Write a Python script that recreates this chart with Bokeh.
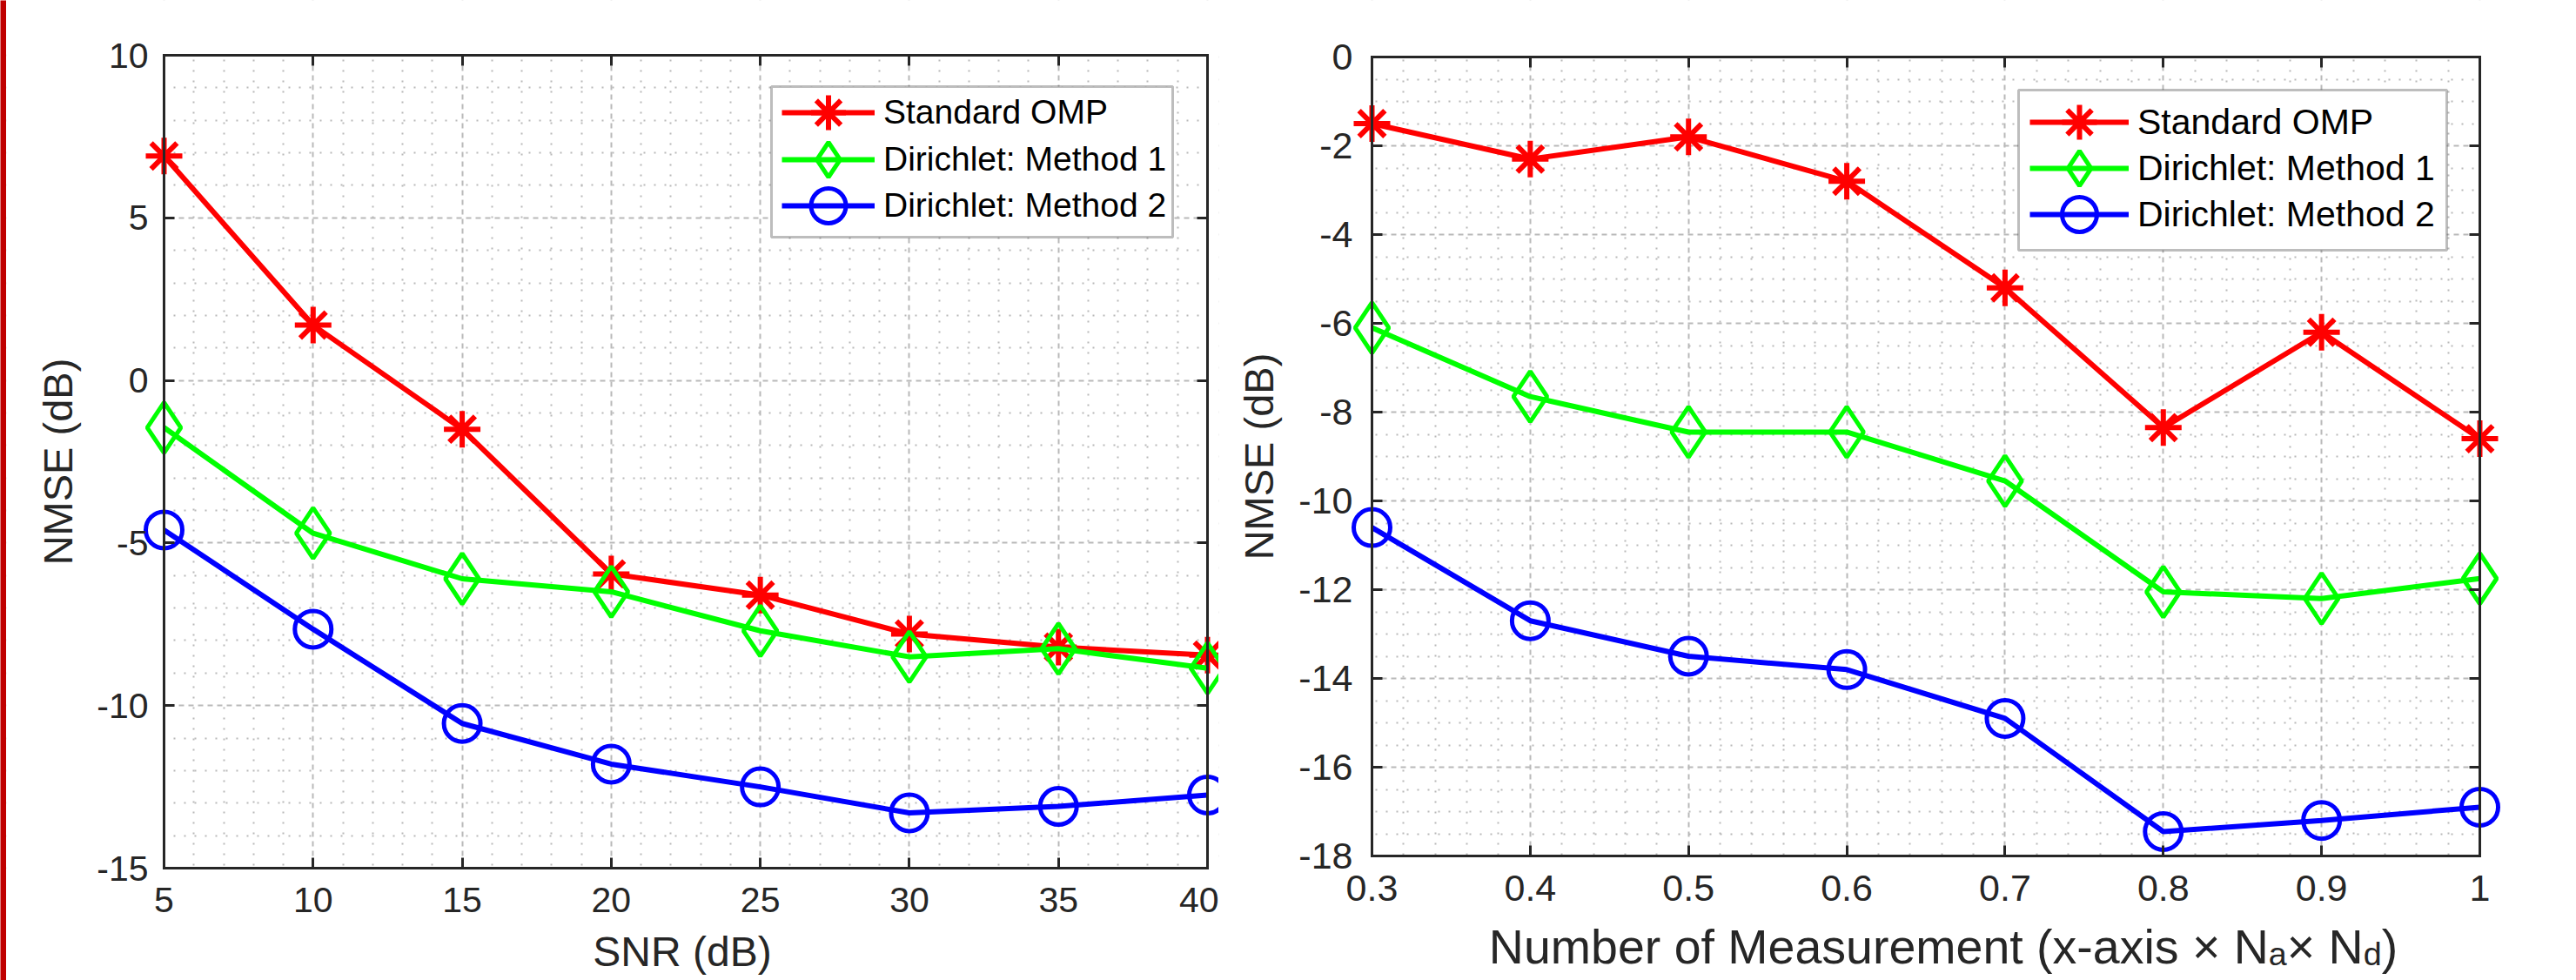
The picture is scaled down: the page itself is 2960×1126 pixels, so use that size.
import numpy as np
from bokeh.plotting import figure
from bokeh.layouts import row
from bokeh.models import (Range1d, FixedTicker, LinearAxis, Legend, LegendItem,
                          Label, BoxAnnotation, CustomJSTickFormatter)
from bokeh.embed import file_html
from bokeh.resources import INLINE

# ---------------- data ----------------
snr_db = [5, 10, 15, 20, 25, 30, 35, 40]
snr_standard_omp = [6.9, 1.7, -1.5, -5.95, -6.6, -7.8, -8.2, -8.45]
snr_dirichlet_m1 = [-1.45, -4.7, -6.1, -6.5, -7.7, -8.5, -8.25, -8.85]
snr_dirichlet_m2 = [-4.6, -7.65, -10.55, -11.8, -12.5, -13.3, -13.1, -12.75]

meas_ratio = [0.3, 0.4, 0.5, 0.6, 0.7, 0.8, 0.9, 1.0]
meas_standard_omp = [-1.5, -2.3, -1.8, -2.8, -5.2, -8.35, -6.2, -8.6]
meas_dirichlet_m1 = [-6.1, -7.65, -8.45, -8.45, -9.55, -12.05, -12.2, -11.75]
meas_dirichlet_m2 = [-10.6, -12.7, -13.5, -13.8, -14.9, -17.45, -17.2, -16.9]

series_labels = ["Standard OMP", "Dirichlet: Method 1", "Dirichlet: Method 2"]

snr_xticks = [5, 10, 15, 20, 25, 30, 35, 40]
snr_yticks = [-15, -10, -5, 0, 5, 10]
meas_xticks = [0.3, 0.4, 0.5, 0.6, 0.7, 0.8, 0.9, 1.0]
meas_yticks = [-18, -16, -14, -12, -10, -8, -6, -4, -2, 0]

left_xlabel = "SNR (dB)"
ylabel_text = "NMSE (dB)"
# (text, is_subscript)
right_xlabel_parts = [("Number of Measurement (x-axis \u00d7 N", False), ("a", True),
                      ("\u00d7 N", False), ("d", True), (")", False)]

# ---------------- styling / layout ----------------
CANVAS_W, CANVAS_H = 2960, 1126
INK = "#262626"
FONT = "Liberation Sans"
GRID = "#b9b9b9"
COLORS = ["#ff0000", "#00ff00", "#0000ff"]
MARKERS = ["asterisk", "diamond", "circle"]
MSIZE = [42, 58, 42]
MLW = [6, 5, 5]
LINE_W = 6
LEG_GH = 100   # legend glyph box height (marker = 0.4*min(w,h))
BAR_W = 7
SPLIT = 1400
LABEL_DY = -20  # empirical offset of Label baselines

ARIAL_W = {' ': 278, '(': 333, ')': 333, '-': 333, 'M': 833, 'N': 722, 'a': 556,
           'b': 556, 'd': 556, 'e': 556, 'f': 278, 'i': 222, 'm': 833, 'n': 556,
           'o': 556, 'r': 333, 's': 500, 't': 278, 'u': 556, 'x': 500, '\u00d7': 584}


def text_width(s, fs):
    return sum(ARIAL_W.get(c, 556) for c in s) * fs / 1000.0


def minor_ticks(major, n):
    out = []
    for a, b in zip(major[:-1], major[1:]):
        for k in range(1, n):
            out.append(a + (b - a) * k / n)
    return out


FMT = "return (Math.round(tick * 100) / 100).toString();"


def style_axis(ax, ticks, fs, standoff, show):
    ax.ticker = FixedTicker(ticks=ticks)
    ax.formatter = CustomJSTickFormatter(code=FMT)
    ax.axis_line_color = INK
    ax.axis_line_width = 3
    ax.axis_line_cap = "square"
    ax.major_tick_line_color = INK
    ax.major_tick_line_width = 3
    ax.major_tick_in = 12
    ax.major_tick_out = 0
    ax.minor_tick_line_color = None
    ax.axis_label = None
    ax.major_label_text_font = FONT
    ax.major_label_text_font_size = f"{fs}px"
    ax.major_label_standoff = standoff
    ax.major_label_text_color = INK if show else None


def make_panel(fig_x0, fig_w, box, xlim, ylim, xs, series, xticks, yticks,
               nx_minor, ny_minor, tick_fs, x_standoff, y_standoff, leg):
    L, R, T, B = box
    ux = (R - L) / (xlim[1] - xlim[0])
    uy = (B - T) / (ylim[1] - ylim[0])
    # the frame covers the whole figure; the axes box sits inside it
    xr = Range1d(xlim[0] - (L - fig_x0) / ux, xlim[1] + (fig_x0 + fig_w - R) / ux)
    yr = Range1d(ylim[0] - (CANVAS_H - B) / uy, ylim[1] + T / uy)
    p = figure(width=fig_w, height=CANVAS_H, x_range=xr, y_range=yr, title=None,
               output_backend="svg", toolbar_location=None, min_border=0,
               outline_line_color=None, background_fill_color="white",
               border_fill_color="white")

    # grid (dotted, major + minor)
    p.xgrid.ticker = FixedTicker(ticks=xticks, minor_ticks=minor_ticks(xticks, nx_minor))
    p.ygrid.ticker = FixedTicker(ticks=yticks, minor_ticks=minor_ticks(yticks, ny_minor))
    for g in (p.xgrid[0], p.ygrid[0]):
        g.grid_line_color = GRID
        g.grid_line_width = 2
        g.grid_line_dash = "6 5"
        g.minor_grid_line_color = GRID
        g.minor_grid_line_width = 2
        g.minor_grid_line_dash = "2 10"
        g.level = "image"

    # white covers outside the axes box
    x0, x1, y0, y1 = xr.start, xr.end, yr.start, yr.end
    for (l, r_, b, t) in [(x0, xlim[0], y0, y1), (xlim[1], x1, y0, y1),
                          (x0, x1, y0, ylim[0]), (x0, x1, ylim[1], y1)]:
        p.add_layout(BoxAnnotation(left=l, right=r_, bottom=b, top=t, fill_color="white",
                                   fill_alpha=1, line_alpha=0, level="image"))

    # axes drawn on the box edges
    xa, ya = p.xaxis[0], p.yaxis[0]
    style_axis(xa, xticks, tick_fs, x_standoff, True)
    xa.fixed_location = ylim[0]
    xa.bounds = tuple(xlim)
    style_axis(ya, yticks, tick_fs, y_standoff, True)
    ya.fixed_location = xlim[0]
    ya.bounds = tuple(ylim)
    top = LinearAxis(fixed_location=ylim[1], bounds=tuple(xlim))
    style_axis(top, xticks, 10, 0, False)
    p.add_layout(top, "above")
    right = LinearAxis(fixed_location=xlim[1], bounds=tuple(ylim))
    style_axis(right, yticks, 10, 0, False)
    p.add_layout(right, "right")

    # data
    items = []
    for ys, label, color, marker, ms, mlw in zip(series, series_labels, COLORS, MARKERS, MSIZE, MLW):
        lr = p.line(xs, ys, line_color=color, line_width=LINE_W)
        sr = p.scatter(xs, ys, marker=marker, size=ms, line_color=color,
                       line_width=mlw, fill_color=None)
        items.append(LegendItem(label=label, renderers=[lr, sr]))

    # legend frame + one single-entry legend per row
    (bl, br, bt, bb), gx0, row1_c, gw, pitch, lfs = leg
    p.add_layout(BoxAnnotation(left=bl - fig_x0, right=br - fig_x0,
                               top=CANVAS_H - bt, bottom=CANVAS_H - bb,
                               left_units="screen", right_units="screen",
                               top_units="screen", bottom_units="screen",
                               fill_color="white", fill_alpha=1, line_color=INK,
                               line_width=3, level="annotation"))
    for k, item in enumerate(items):
        c = row1_c + k * pitch
        bottom_abs = c + LEG_GH / 2.0
        lg = Legend(items=[item], location=(gx0 - fig_x0, CANVAS_H - bottom_abs),
                    glyph_width=gw, glyph_height=LEG_GH, label_height=LEG_GH,
                    label_standoff=10, padding=0, margin=0, spacing=0,
                    border_line_alpha=0, background_fill_alpha=0,
                    label_text_font=FONT, label_text_font_size=f"{lfs}px",
                    label_text_color="black")
        p.add_layout(lg)

    def add_label(text, ax_abs, ay_abs, fs, angle=0, align="center", baseline="alphabetic"):
        p.add_layout(Label(x=ax_abs - fig_x0, y=CANVAS_H - ay_abs, x_units="screen",
                           y_units="screen", text=text, angle=angle, angle_units="deg",
                           text_align=align, text_baseline=baseline, text_font=FONT,
                           text_font_size=f"{fs}px", text_color=INK))
    return p, add_label


# ---------------- left panel ----------------
left_box = (188, 1387, 63, 997)
p1, lab1 = make_panel(BAR_W, SPLIT - BAR_W, left_box, (5, 40), (-15, 10), snr_db,
                      [snr_standard_omp, snr_dirichlet_m1, snr_dirichlet_m2],
                      snr_xticks, snr_yticks, 5, 5, 41, 22, 18,
                      ((886, 1347, 99, 272), 898, 129, 107, 53.5, 39))
lab1(left_xlabel, (left_box[0] + left_box[1]) / 2.0 - 4, 1113 + LABEL_DY, 48)
lab1(ylabel_text, 66, (left_box[2] + left_box[3]) / 2.0, 47, angle=90, baseline="middle")

# ---------------- right panel ----------------
right_box = (1576, 2849, 65, 983)
p2, lab2 = make_panel(SPLIT, CANVAS_W - SPLIT, right_box, (0.3, 1.0), (-18, 0), meas_ratio,
                      [meas_standard_omp, meas_dirichlet_m1, meas_dirichlet_m2],
                      meas_xticks, meas_yticks, 5, 4, 43, 22, 22,
                      ((2319, 2811, 103, 287), 2332, 140, 114, 53, 41))
lab2(ylabel_text, 1446, (right_box[2] + right_box[3]) / 2.0, 47, angle=90, baseline="middle")

XL_FS = 55.5
SUB_FS = 0.68 * XL_FS
SUB_DROP = 0.15 * XL_FS
total = sum(text_width(t, SUB_FS if s else XL_FS) for t, s in right_xlabel_parts)
cx = (right_box[0] + right_box[1]) / 2.0 + 20 - total / 2.0
base_y = 1107 + LABEL_DY
for t, s in right_xlabel_parts:
    fs = SUB_FS if s else XL_FS
    lab2(t, cx, base_y + (SUB_DROP if s else 0), round(fs, 1), align="left")
    cx += text_width(t, fs)

# ---------------- red edge bar ----------------
bar = figure(width=BAR_W, height=CANVAS_H, output_backend="svg", toolbar_location=None,
             min_border=0, x_axis_location=None, y_axis_location=None, title=None,
             outline_line_color=None, background_fill_color="#c00000",
             border_fill_color="#c00000", x_range=Range1d(0, 1), y_range=Range1d(0, 1))
bar.grid.visible = False

layout = row(bar, p1, p2, spacing=0)
open("out.html", "w").write(file_html(layout, INLINE))
